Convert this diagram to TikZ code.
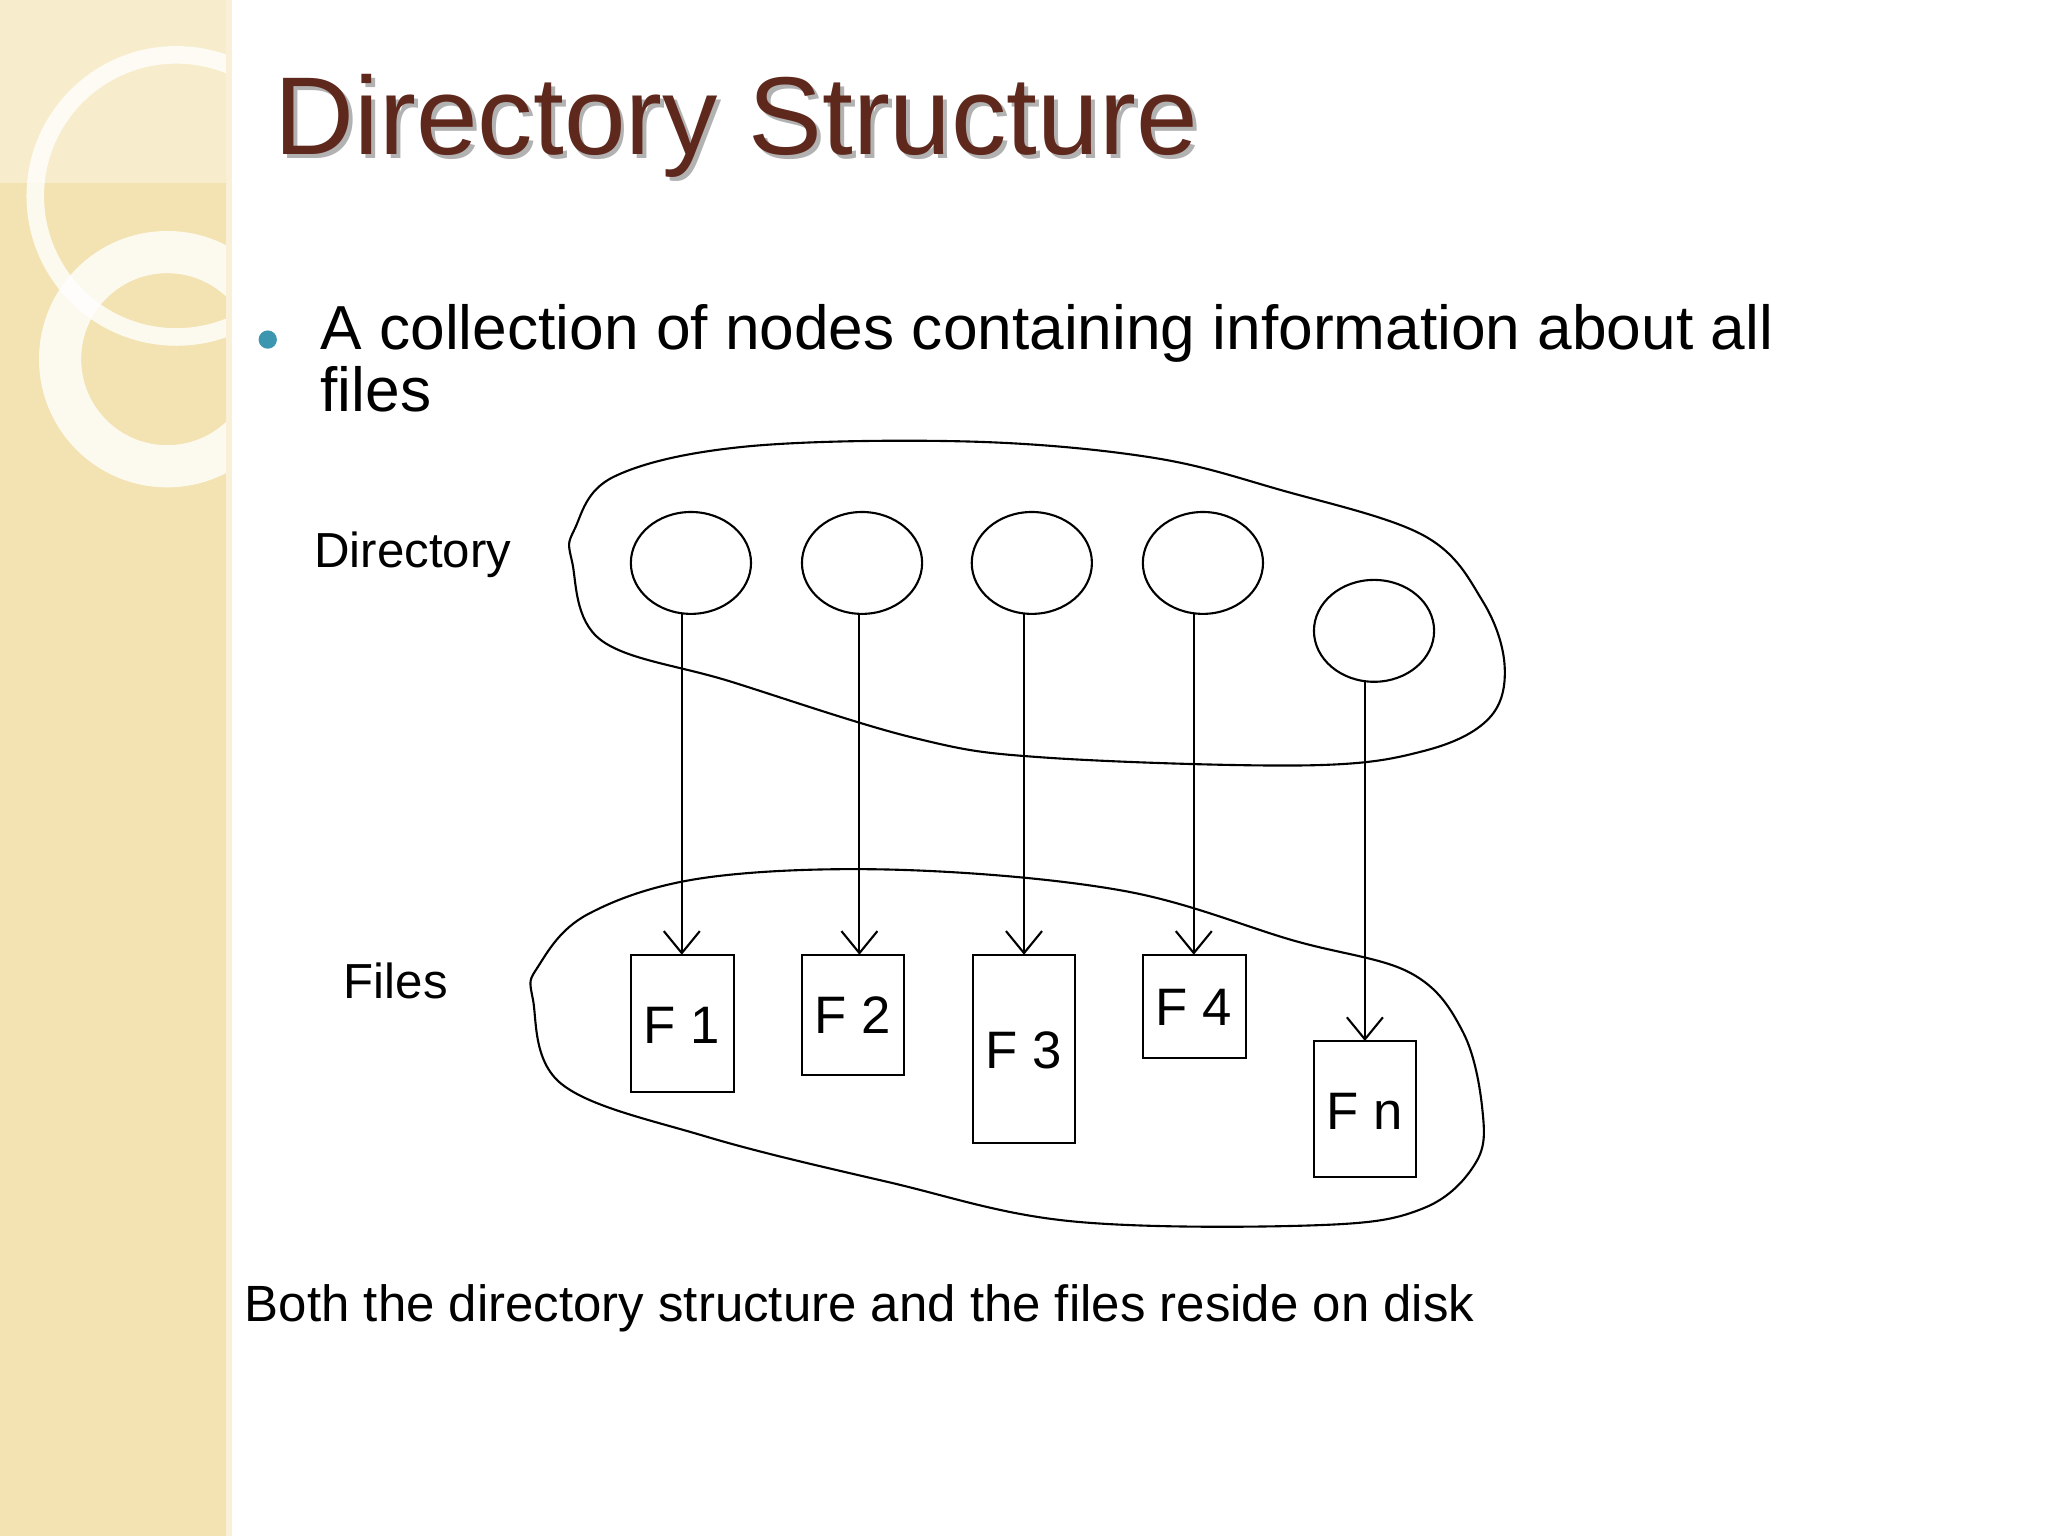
\documentclass[tikz,border=0pt]{standalone}
\usepackage{fontspec}
\setmainfont{Liberation Sans}
\usetikzlibrary{arrows.meta}
\definecolor{side}{RGB}{243,226,178}
\definecolor{sidel}{RGB}{250,240,215}
\definecolor{ttl}{RGB}{94,40,28}
\definecolor{bulc}{RGB}{60,150,175}
\begin{document}
\begin{tikzpicture}[x=0.013061cm,y=-0.013061cm,inner sep=0pt,
  lbl/.style={font=\fontsize{14}{16}\selectfont},
  ftxt/.style={font=\fontsize{15}{17}\selectfont},
  blob/.style={draw,semithick},
  arr/.style={-{Straight Barb[length=2.2mm,width=3.6mm]},semithick}]
\useasboundingbox (0,0) rectangle (1568,1176);
\fill[white] (0,0) rectangle (1568,1176);
% sidebar
\fill[side] (0,0) rectangle (173,1176);
\fill[sidel] (173,0) rectangle (178,1176);
\begin{scope}
\clip (0,0) rectangle (173,1176);
\fill[white,opacity=0.35] (0,0) rectangle (173,140);
\draw[white,line width=5pt,opacity=0.8] (135,150) circle (108);
\draw[white,line width=12pt,opacity=0.8] (128,275) circle (82);
\end{scope}
% title
\node[anchor=base west,text=black!30,font=\fontsize{31.5}{36}\selectfont] at (213,121) {Directory Structure};
\node[anchor=base west,text=ttl,font=\fontsize{31.5}{36}\selectfont] (title) at (210,118) {Directory Structure};
% bullet
\fill[bulc] (205,260) circle (7);
\node[anchor=base west,align=left,font=\fontsize{17.7}{12}\selectfont] (bul) at (245,315) {A collection of nodes containing information about all\\files};
% blobs
\draw[blob] plot[smooth cycle,tension=0.6] coordinates {(440,405) (470,365) (570,342) (740,338) (880,350) (980,375) (1090,410) (1135,460) (1152,510) (1140,550) (1090,575) (1000,586) (800,580) (700,565) (560,522) (460,490) (438,430)};
\draw[blob] plot[smooth cycle,tension=0.6] coordinates {(412,740) (450,700) (540,672) (690,666) (860,682) (990,720) (1080,745) (1120,790) (1135,850) (1130,890) (1090,925) (1010,938) (820,935) (680,905) (540,870) (430,830) (408,765)};
% labels
\node[lbl] (ldir) at (316,425) {Directory};
\node[lbl] (lfil) at (303,751) {Files};
\node[font=\fontsize{14.5}{16}\selectfont,anchor=base west] (foot) at (187,1012) {Both the directory structure and the files reside on disk};
% directory circles
\foreach \n/\x/\y in {1/529/431,2/660/431,3/790/431,4/921/431,5/1052/483}
  \draw[semithick] (\x,\y) ellipse (46 and 39) coordinate (c\n);
\coordinate (s1) at (522,470); \coordinate (s2) at (658,470); \coordinate (s3) at (784,470);
\coordinate (s4) at (914,470); \coordinate (s5) at (1045,522);
% files
\draw[semithick] (483,731) rectangle (562,836); \node[ftxt] (f1) at (522,785) {F 1};
\draw[semithick] (614,731) rectangle (692,823); \node[ftxt] (f2) at (653,777) {F 2};
\draw[semithick] (745,731) rectangle (823,875); \node[ftxt] (f3) at (784,804) {F 3};
\draw[semithick] (875,731) rectangle (954,810); \node[ftxt] (f4) at (914,771) {F 4};
\draw[semithick] (1006,797) rectangle (1084,901); \node[ftxt] (fn) at (1045,851) {F n};
\coordinate (t1) at (522,731); \coordinate (t2) at (658,731); \coordinate (t3) at (784,731);
\coordinate (t4) at (914,731); \coordinate (t5) at (1045,797);
\foreach \i in {1,...,5} \draw[arr] (s\i) -- (t\i);
\end{tikzpicture}
\end{document}
